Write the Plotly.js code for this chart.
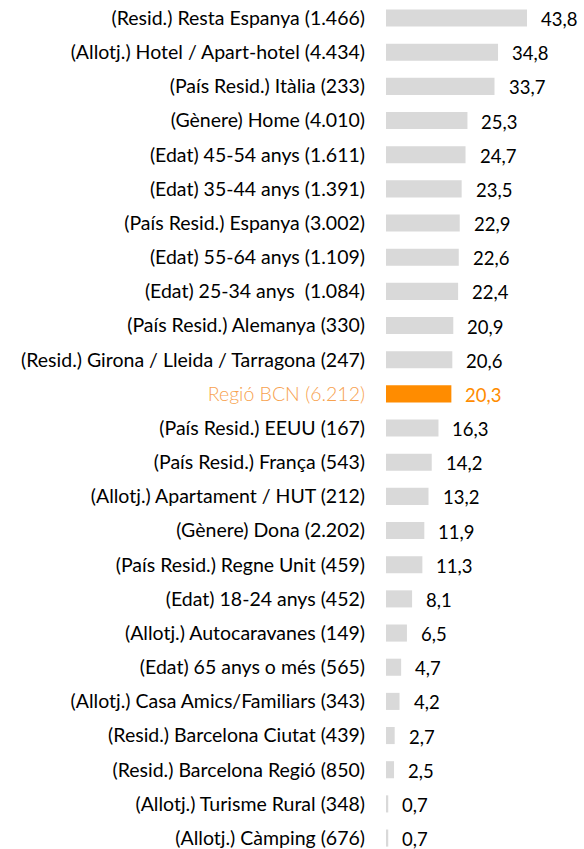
<!DOCTYPE html>
<html><head><meta charset="utf-8">
<script src="https://cdn.plot.ly/plotly-3.0.1.min.js"></script>
<style>html,body{margin:0;padding:0;background:#fff;}</style>
</head><body>
<div id="chart" style="width:584px;height:849px;"></div>
<script>
const categories = [
  "(Resid.) Resta Espanya (1.466)",
  "(Allotj.) Hotel / Apart-hotel (4.434)",
  "(País Resid.) Itàlia (233)",
  "(Gènere) Home (4.010)",
  "(Edat) 45-54 anys (1.611)",
  "(Edat) 35-44 anys (1.391)",
  "(País Resid.) Espanya (3.002)",
  "(Edat) 55-64 anys (1.109)",
  "(Edat) 25-34 anys  (1.084)",
  "(País Resid.) Alemanya (330)",
  "(Resid.) Girona / Lleida / Tarragona (247)",
  "Regió BCN (6.212)",
  "(País Resid.) EEUU (167)",
  "(País Resid.) França (543)",
  "(Allotj.) Apartament / HUT (212)",
  "(Gènere) Dona (2.202)",
  "(País Resid.) Regne Unit (459)",
  "(Edat) 18-24 anys (452)",
  "(Allotj.) Autocaravanes (149)",
  "(Edat) 65 anys o més (565)",
  "(Allotj.) Casa Amics/Familiars (343)",
  "(Resid.) Barcelona Ciutat (439)",
  "(Resid.) Barcelona Regió (850)",
  "(Allotj.) Turisme Rural (348)",
  "(Allotj.) Càmping (676)"
];
const values = [43.8, 34.8, 33.7, 25.3, 24.7, 23.5, 22.9, 22.6, 22.4, 20.9, 20.6, 20.3, 16.3, 14.2, 13.2, 11.9, 11.3, 8.1, 6.5, 4.7, 4.2, 2.7, 2.5, 0.7, 0.7];
const highlight = "Regió BCN (6.212)";

const GRAY = "#D9D9D9", ORANGE = "#FF8C00", ORANGE_TXT = "#F7A24F";
const FONT = "Lato, Open Sans, sans-serif";

const idx = categories.map((c, i) => i);
const barColors = categories.map(c => c === highlight ? ORANGE : GRAY);
const tickText = categories.map(c => c === highlight
  ? '<span style="color:' + ORANGE_TXT + ';font-weight:300">' + c + '</span>' : c);

const trace = {
  type: "bar", orientation: "h",
  x: values, y: idx,
  marker: {color: barColors},
  width: 0.5,
  hoverinfo: "none"
};

const annotations = values.map((v, i) => ({
  x: v, y: i, xref: "x", yref: "y",
  text: v.toFixed(1).replace(".", ","),
  showarrow: false, xanchor: "left", yanchor: "middle",
  xshift: 12, yshift: -1,
  font: {family: FONT, size: 18.5, color: categories[i] === highlight ? ORANGE : "#000"}
}));

const layout = {
  width: 584, height: 849,
  margin: {l: 386, r: 0, t: 0, b: 0},
  paper_bgcolor: "#fff", plot_bgcolor: "#fff",
  showlegend: false,
  xaxis: {range: [0, 61.5], visible: false, fixedrange: true},
  yaxis: {
    range: [24.32, -0.527],
    tickmode: "array", tickvals: idx, ticktext: tickText,
    showgrid: false, zeroline: false, showline: false, ticks: "",
    ticklabelstandoff: 20,
    tickfont: {family: FONT, size: 19.5, color: "#000"}
  },
  annotations: annotations,
  font: {family: FONT}
};

Plotly.newPlot("chart", [trace], layout, {displayModeBar: false, staticPlot: true});
</script>
</body></html>
